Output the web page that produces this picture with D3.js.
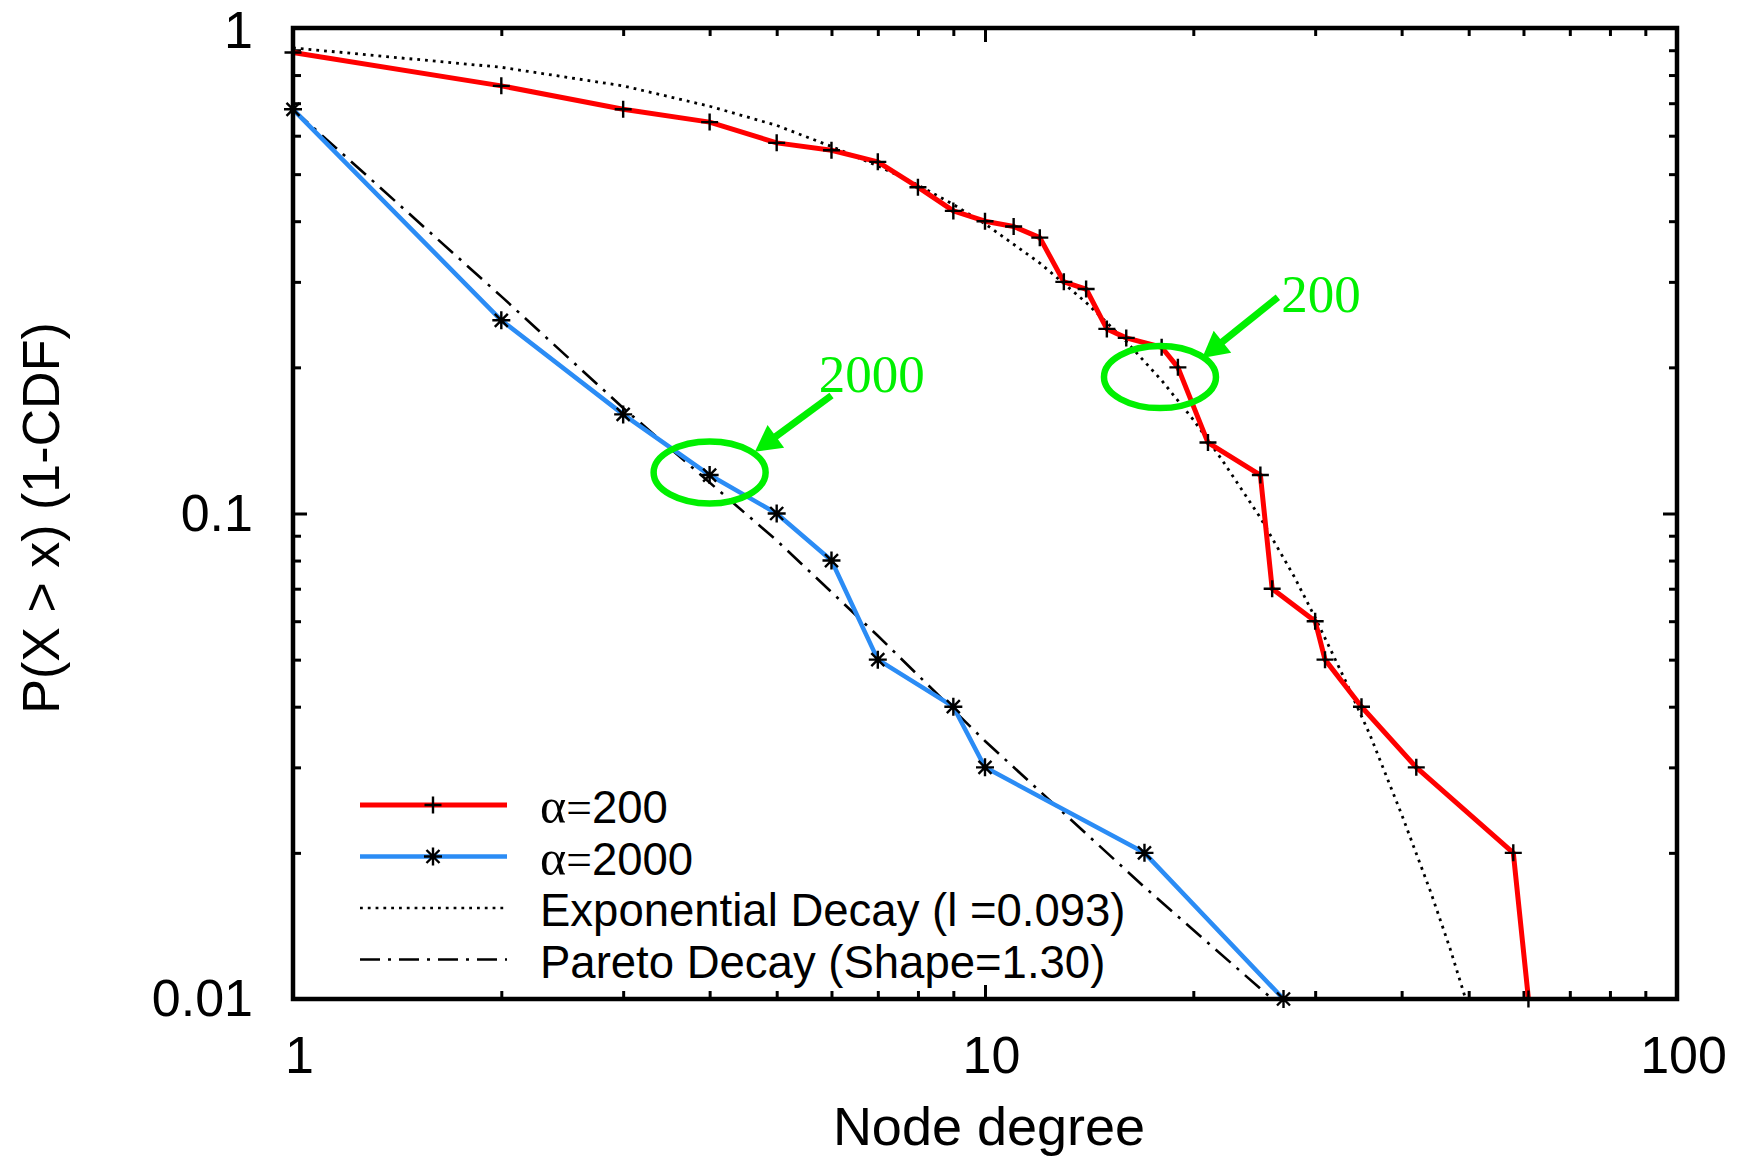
<!DOCTYPE html>
<html>
<head>
<meta charset="utf-8">
<script src="https://cdn.jsdelivr.net/npm/d3@7"></script>
<style>
    body { margin: 0; background: #fff; }
    text { font-family: "Liberation Sans", Arial, Helvetica, sans-serif; }
</style>
</head>
<body>
<div id="chart"></div>
<script>

// alpha = 200 (red, plus markers)
let degree200 = [1, 2, 3, 4, 5, 6, 7, 8, 9, 10, 11, 12, 13, 14, 15, 16, 18, 19, 21, 25, 26, 30, 31, 35, 42, 58, 61];
let prob200   = [0.89, 0.76, 0.68, 0.64, 0.58, 0.56, 0.53, 0.47, 0.42, 0.40, 0.39, 0.37, 0.30, 0.29, 0.24, 0.23, 0.22, 0.20, 0.14, 0.12, 0.07, 0.06, 0.05, 0.04, 0.03, 0.02, 0.01];

// alpha = 2000 (blue, star markers)
let degree2000 = [1, 2, 3, 4, 5, 6, 7, 9, 10, 17, 27];
let prob2000   = [0.68, 0.25, 0.16, 0.12, 0.10, 0.08, 0.05, 0.04, 0.03, 0.02, 0.01];

// fitted curves
let expDegree = [1, 2, 3, 4, 5, 6, 7, 8, 9, 10, 12, 14, 16, 18, 20, 22, 25, 28, 30, 33, 36, 40, 44, 47, 49.5];
let expProb   = [0.91, 0.83, 0.76, 0.69, 0.63, 0.57, 0.52, 0.475, 0.433, 0.395, 0.328, 0.272, 0.226, 0.188, 0.156, 0.129, 0.098, 0.074, 0.061, 0.046, 0.035, 0.024, 0.0167, 0.0127, 0.01];

let paretoDegree = [1, 2, 3, 5, 7, 10, 17, 26];
let paretoProb   = [0.68, 0.28, 0.165, 0.088, 0.056, 0.034, 0.017, 0.01];

// ticks
let xMajor = [1, 10, 100];
let xMinor = [2, 3, 4, 5, 6, 7, 8, 9, 20, 30, 40, 50, 60, 70, 80, 90];
let xTickLabels = ["1", "10", "100"];
let yMajor = [0.01, 0.1, 1];
let yMinor = [0.02, 0.03, 0.04, 0.05, 0.06, 0.07, 0.08, 0.09, 0.2, 0.3, 0.4, 0.5, 0.6, 0.7, 0.8, 0.9];
let yTickLabels = ["0.01", "0.1", "1"];

let legendLabels = ["200", "2000", "Exponential Decay (l =0.093)", "Pareto Decay (Shape=1.30)"];

let red = "#ff0000", blue = "#2b8cf5", green = "#00f000";

let margin = {top: 28, right: 70, bottom: 160, left: 293};
let W = 1747, H = 1159;
let width = W - margin.left - margin.right;
let height = H - margin.top - margin.bottom;

let svgRoot = d3.select("#chart").append("svg")
    .attr("width", W)
    .attr("height", H);

let svg = svgRoot.append("g")
    .attr("transform", "translate(" + margin.left + "," + margin.top + ")");

let x = d3.scaleLog().domain([1, 100]).range([0, width]);
let y = d3.scaleLog().domain([0.01, 1]).range([height, 0]);

// axes: major + minor ticks on all four sides, pointing inward
function styleAxis(g) {
    g.select(".domain").remove();
    g.selectAll(".tick line").attr("stroke", "#000").attr("stroke-width", 3);
    g.selectAll(".tick text").attr("fill", "#000").style("font-size", "52px");
}

svg.append("g").attr("transform", "translate(0," + height + ")")
    .call(d3.axisBottom(x).tickValues(xMajor).tickSize(-14).tickPadding(37).tickFormat((d, i) => xTickLabels[i]))
    .call(styleAxis)
    .call(g => g.selectAll(".tick text").attr("dx", 6));
svg.append("g").attr("transform", "translate(0," + height + ")")
    .call(d3.axisBottom(x).tickValues(xMinor).tickSize(-8).tickFormat(""))
    .call(styleAxis);
svg.append("g")
    .call(d3.axisTop(x).tickValues(xMajor).tickSize(-14).tickFormat(""))
    .call(styleAxis);
svg.append("g")
    .call(d3.axisTop(x).tickValues(xMinor).tickSize(-8).tickFormat(""))
    .call(styleAxis);

svg.append("g")
    .call(d3.axisLeft(y).tickValues(yMajor).tickSize(-14).tickPadding(40).tickFormat((d, i) => yTickLabels[i]))
    .call(styleAxis)
    // keep the top label "1" inside the picture
    .call(g => g.selectAll(".tick text").filter(d => d === 1).attr("dy", "0.38em"));
svg.append("g")
    .call(d3.axisLeft(y).tickValues(yMinor).tickSize(-8).tickFormat(""))
    .call(styleAxis);
svg.append("g").attr("transform", "translate(" + width + ",0)")
    .call(d3.axisRight(y).tickValues(yMajor).tickSize(-14).tickFormat(""))
    .call(styleAxis);
svg.append("g").attr("transform", "translate(" + width + ",0)")
    .call(d3.axisRight(y).tickValues(yMinor).tickSize(-8).tickFormat(""))
    .call(styleAxis);

// line generators
let line = d3.line()
    .x(d => x(d[0]))
    .y(d => y(d[1]));

let expData = expDegree.map((d, i) => [d, expProb[i]]);
let paretoData = paretoDegree.map((d, i) => [d, paretoProb[i]]);
let data200 = degree200.map((d, i) => [d, prob200[i]]);
let data2000 = degree2000.map((d, i) => [d, prob2000[i]]);

let dotDash = "2.8,5";
let dashDot = "20,8,3,8";

svg.append("path").datum(expData)
    .attr("d", line).attr("fill", "none")
    .attr("stroke", "#000").attr("stroke-width", 2.8)
    .attr("stroke-dasharray", dotDash);

svg.append("path").datum(paretoData)
    .attr("d", line).attr("fill", "none")
    .attr("stroke", "#000").attr("stroke-width", 2.6)
    .attr("stroke-dasharray", dashDot);

svg.append("path").datum(data200)
    .attr("d", line).attr("fill", "none")
    .attr("stroke", red).attr("stroke-width", 5)
    .attr("stroke-linejoin", "round");

svg.append("path").datum(data2000)
    .attr("d", line).attr("fill", "none")
    .attr("stroke", blue).attr("stroke-width", 4.5)
    .attr("stroke-linejoin", "round");

// markers
let plusPath = "M-8.5,0H8.5M0,-8.5V8.5";
let starPath = "M-9,0H9M0,-9V9M-6.5,-6.5L6.5,6.5M-6.5,6.5L6.5,-6.5";

svg.selectAll(".m200").data(data200).enter().append("path")
    .attr("class", "m200")
    .attr("transform", d => "translate(" + x(d[0]) + "," + y(d[1]) + ")")
    .attr("d", plusPath).attr("stroke", "#000").attr("stroke-width", 2.4);

svg.selectAll(".m2000").data(data2000).enter().append("path")
    .attr("class", "m2000")
    .attr("transform", d => "translate(" + x(d[0]) + "," + y(d[1]) + ")")
    .attr("d", starPath).attr("stroke", "#000").attr("stroke-width", 2.4);

// frame
svg.append("rect")
    .attr("width", width).attr("height", height)
    .attr("fill", "none").attr("stroke", "#000").attr("stroke-width", 4.5);

// annotations (green ellipses, arrows, labels)
let annotations = [
    {label: "200",  center: [17.9, 0.191], from: [26.5, 0.279], tip: [20.6, 0.209], text: [26.8, 0.26]},
    {label: "2000", center: [4.0, 0.1215], from: [6.0, 0.175],  tip: [4.65, 0.134], text: [5.75, 0.178]}
];

annotations.forEach(a => {
    svg.append("ellipse")
        .attr("cx", x(a.center[0])).attr("cy", y(a.center[1]))
        .attr("rx", 56).attr("ry", 31)
        .attr("fill", "none").attr("stroke", green).attr("stroke-width", 6.5);

    let x0 = x(a.from[0]), y0 = y(a.from[1]);
    let x1 = x(a.tip[0]), y1 = y(a.tip[1]);
    let len = Math.hypot(x1 - x0, y1 - y0);
    let ux = (x1 - x0) / len, uy = (y1 - y0) / len;
    let headLen = 26, headHalf = 14;
    let bx = x1 - ux * headLen, by = y1 - uy * headLen;

    svg.append("line")
        .attr("x1", x0).attr("y1", y0).attr("x2", bx + ux * 2).attr("y2", by + uy * 2)
        .attr("stroke", green).attr("stroke-width", 7);

    svg.append("path")
        .attr("d", "M" + x1 + "," + y1 +
            "L" + (bx - uy * headHalf) + "," + (by + ux * headHalf) +
            "L" + (bx + uy * headHalf) + "," + (by - ux * headHalf) + "Z")
        .attr("fill", green);

    svg.append("text")
        .attr("x", x(a.text[0])).attr("y", y(a.text[1]))
        .attr("fill", green)
        .style("font-family", "'Liberation Serif', 'Times New Roman', serif")
        .style("font-size", "53px")
        .text(a.label);
});

// legend
let legend = svgRoot.append("g").attr("transform", "translate(360,805)");
let rowGap = 51.5;
let legendStyles = [
    {stroke: red,  width: 5, dash: null,    marker: plusPath},
    {stroke: blue, width: 4.5, dash: null,    marker: starPath},
    {stroke: "#000", width: 2.6, dash: dotDash, marker: null},
    {stroke: "#000", width: 2.6, dash: dashDot, marker: null}
];

legendStyles.forEach((s, i) => {
    let row = legend.append("g").attr("transform", "translate(0," + (i * rowGap) + ")");
    row.append("line")
        .attr("x1", 0).attr("x2", 147)
        .attr("stroke", s.stroke).attr("stroke-width", s.width)
        .attr("stroke-dasharray", s.dash);
    if (s.marker) {
        row.append("path").attr("transform", "translate(73,0)")
            .attr("d", s.marker).attr("stroke", "#000").attr("stroke-width", 2.4);
    }
    let t = row.append("text")
        .attr("x", 180).attr("dy", "0.4em")
        .style("font-size", "45.5px");
    if (i < 2) {
        t.append("tspan").style("font-family", "'Liberation Serif', serif").style("font-size", "50px").text("\u03b1");
        t.append("tspan").style("font-family", "'Liberation Serif', serif").text("=");
        t.append("tspan").text(legendLabels[i]);
    } else {
        t.text(legendLabels[i]);
    }
});

// axis titles
svgRoot.append("text")
    .attr("x", margin.left + width / 2 + 4)
    .attr("y", 1145)
    .attr("text-anchor", "middle")
    .style("font-size", "54px")
    .text("Node degree");

svgRoot.append("text")
    .attr("transform", "translate(59,518) rotate(-90)")
    .attr("text-anchor", "middle")
    .style("font-size", "52px")
    .text("P(X > x) (1-CDF)");

</script>
</body>
</html>
